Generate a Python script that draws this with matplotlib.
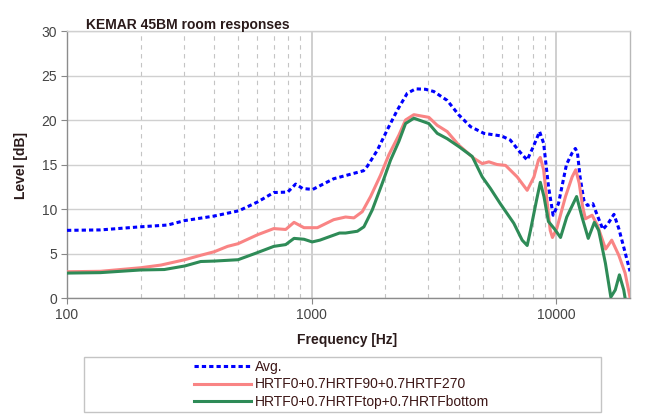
import matplotlib
matplotlib.use("Agg")
import matplotlib.pyplot as plt
from matplotlib.patches import Rectangle
from matplotlib.ticker import FixedLocator, NullFormatter

plt.rcParams['font.family'] = ['Liberation Sans', 'DejaVu Sans']

# ---------------- data ----------------
title = "KEMAR 45BM room responses"
x_label = "Frequency [Hz]"
y_label = "Level [dB]"
series_names = ["Avg.", "HRTF0+0.7HRTF90+0.7HRTF270", "HRTF0+0.7HRTFtop+0.7HRTFbottom"]

avg_freq = [100, 137, 200, 258, 303, 398, 504, 602, 700, 798, 860, 919, 1010, 1230,
            1484, 1630, 1688, 1855, 2037, 2238, 2458, 2660, 2920, 3156, 3580, 3985,
            4460, 5060, 5980, 6480, 7100, 7600, 8050, 8540, 8870, 9290, 9700, 10200,
            11000, 11600, 11960, 12200, 12500, 12950, 13400, 14100, 14600, 15500, 16300,
            17200, 18000, 18900, 20000]
avg_level = [7.6, 7.65, 8.0, 8.2, 8.7, 9.2, 9.8, 10.8, 11.85, 11.9, 12.8, 12.3, 12.2, 13.4,
             14.0, 14.3, 14.8, 16.6, 18.9, 21.1, 23.0, 23.5, 23.45, 23.2, 22.2, 20.6,
             19.25, 18.5, 18.2, 17.75, 16.4, 15.5, 17.0, 18.7, 17.4, 12.5, 9.3, 10.6,
             15.0, 16.3, 16.8, 16.3, 13.6, 11.0, 10.4, 10.6, 9.5, 7.7, 8.4,
             9.4, 7.8, 5.6, 3.0]

r_freq = [100, 137, 200, 242, 303, 352, 400, 453, 500, 600, 700, 783, 847, 930, 1055,
          1230, 1376, 1488, 1610, 1741, 1912, 2068, 2272, 2419, 2616, 2873, 3012, 3260,
          3580, 3985, 4060, 4600, 4980, 5300, 5720, 6200, 6920, 7600, 8100, 8450, 8600,
          8870, 9150, 9440, 9640, 10040, 10900, 11600, 12000, 12400, 12800, 13150, 14000,
          14700, 15900, 16840, 18000, 19100, 20000]
r_level = [2.95, 3.0, 3.4, 3.7, 4.3, 4.8, 5.2, 5.8, 6.1, 7.1, 7.8, 7.7, 8.5, 7.9, 7.9,
           8.8, 9.1, 9.0, 9.7, 11.4, 13.8, 16.1, 18.3, 20.0, 20.6, 20.4, 20.3, 19.4,
           18.7, 17.2, 17.0, 15.7, 15.1, 15.3, 15.0, 14.9, 13.6, 12.1, 13.6, 15.5, 15.8,
           14.4, 11.0, 7.6, 6.8, 7.8, 11.4, 13.6, 14.4, 12.9, 10.3, 8.9, 9.3,
           8.2, 5.5, 6.5, 4.8, 2.8, 0.1]

g_freq = [100, 137, 200, 250, 303, 352, 400, 500, 600, 700, 783, 847, 930, 1005, 1080,
          1300, 1376, 1537, 1635, 1769, 1944, 2101, 2272, 2419, 2616, 3012, 3260, 3580,
          4000, 4530, 4980, 5380, 5900, 6700, 7250, 7600, 7840, 8300, 8600, 8900, 9280,
          9800, 10400, 11030, 12100, 12730, 13500, 14300, 14890, 15870, 16700, 17410,
          18100, 18860, 19500]
g_level = [2.8, 2.85, 3.15, 3.2, 3.6, 4.1, 4.15, 4.3, 5.1, 5.8, 6.0, 6.7, 6.6, 6.3, 6.5,
           7.3, 7.3, 7.5, 8.0, 9.9, 12.9, 15.5, 17.6, 19.6, 20.2, 19.6, 18.5, 17.9,
           17.0, 15.9, 13.6, 12.3, 10.6, 8.4, 6.5, 5.9, 7.6, 11.0, 13.0, 11.4, 8.6,
           7.8, 6.8, 9.1, 11.4, 9.1, 6.7, 8.5, 7.6, 3.9, 0.1, 0.9,
           2.6, 0.9, -1.5]

x_major = [100, 1000, 10000]
x_major_labels = ["100", "1000", "10000"]
x_minor = [200, 300, 400, 500, 600, 700, 800, 900,
           2000, 3000, 4000, 5000, 6000, 7000, 8000, 9000]
y_ticks = [0, 5, 10, 15, 20, 25, 30]

# ---------------- figure ----------------
W, H = 668, 415
fig = plt.figure(figsize=(W / 100, H / 100), dpi=100)
L, R, T, B = 67, 630, 31, 298
ax = fig.add_axes([L / W, (H - B) / H, (R - L) / W, (B - T) / H])

ax.set_xscale('log')
ax.set_xlim(100, 20000)
ax.set_ylim(0, 30)

blue = '#0000ff'
red = '#f98484'
green = '#2e8b57'
lw = 2.2

l1, = ax.plot(avg_freq, avg_level, color=blue, lw=lw, linestyle=(0, (1.4, 1.0)),
              dash_capstyle='butt', zorder=3)
l2, = ax.plot(r_freq, r_level, color=red, lw=lw, solid_joinstyle='round', zorder=4)
l3, = ax.plot(g_freq, g_level, color=green, lw=lw, solid_joinstyle='round', zorder=5)

ax.xaxis.set_major_locator(FixedLocator(x_major))
ax.set_xticklabels(x_major_labels)
ax.xaxis.set_minor_locator(FixedLocator(x_minor))
ax.xaxis.set_minor_formatter(NullFormatter())
ax.set_yticks(y_ticks)
ax.set_yticklabels([str(v) for v in y_ticks])

ax.grid(which='major', axis='y', color='#d0d0d0', lw=1.0, zorder=0)
ax.grid(which='major', axis='x', color='#cfcfcf', lw=1.4, zorder=0)
ax.grid(which='minor', axis='x', color='#c4c4c4', lw=0.8, linestyle=(0, (4, 4)), zorder=0)
ax.set_axisbelow(True)

ax.tick_params(axis='x', which='major', length=4, width=0.8, color='#888888',
               labelsize=10, labelcolor='#444444', pad=3)
ax.tick_params(axis='x', which='minor', length=0)
ax.tick_params(axis='y', which='major', length=4, width=0.8, color='#888888',
               labelsize=10, labelcolor='#444444', pad=3)

for side in ['left', 'bottom']:
    ax.spines[side].set_color('#8c8c8c')
    ax.spines[side].set_linewidth(1.0)
ax.spines['right'].set_color('#b8b8b8')
ax.spines['top'].set_color('#d0d0d0')
ax.spines['right'].set_linewidth(1.0)
ax.spines['top'].set_linewidth(1.0)

txt_dark = '#2a1a1a'
fig.text(86 / W, (H - 29.3) / H, title, fontsize=10, fontweight='bold',
         color=txt_dark, ha='left', va='baseline')
fig.text(347.5 / W, (H - 344.3) / H, x_label, fontsize=10, fontweight='bold',
         color=txt_dark, ha='center', va='baseline')
fig.text(21.5 / W, (H - 165.8) / H, y_label, fontsize=10, fontweight='bold',
         color=txt_dark, ha='center', va='center', rotation=90)

# legend frame
fig.patches.append(Rectangle((84 / W, (H - 412) / H), (601 - 84) / W, (412 - 357) / H,
                             transform=fig.transFigure, facecolor='white',
                             edgecolor='#c4c4c4', lw=1.0, zorder=0))
leg = fig.legend([l1, l2, l3], series_names, loc='upper left',
                 bbox_to_anchor=(194 / W, (H - 360) / H), frameon=False,
                 fontsize=10, handlelength=4.1, handletextpad=0.3,
                 labelspacing=0.25, borderpad=0, borderaxespad=0)
for t in leg.get_texts():
    t.set_color('#3c1616')

fig.savefig('out.png', dpi=100)
